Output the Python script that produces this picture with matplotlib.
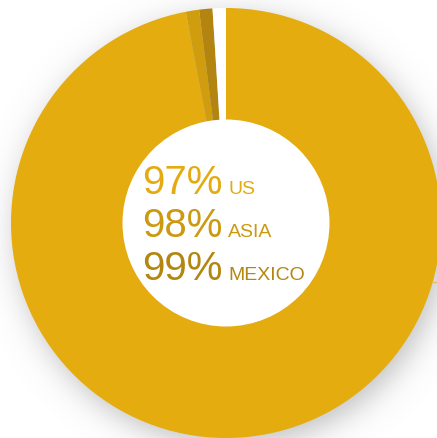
import numpy as np
import matplotlib
matplotlib.use("Agg")
import matplotlib.pyplot as plt
from matplotlib.patches import Circle

# Data
regions = ["US", "ASIA", "MEXICO"]
percents = [97, 98, 99]
slice_colors = ["#E5AC10", "#CF9D0E", "#B3840F"]
text_colors = ["#E3AA12", "#CB9A10", "#B3860F"]

W, H = 437, 438
fig = plt.figure(figsize=(W / 100, H / 100), dpi=100)
ax = fig.add_axes([0, 0, 1, 1])
ax.set_xlim(0, W)
ax.set_ylim(0, H)
ax.axis("off")

cx, cy_img = 226, 223
cy = H - cy_img
R_out, R_in = 215, 103

# soft drop shadow
yy, xx = np.mgrid[0:H, 0:W]
sx, sy = cx + 5, cy_img + 8
d = np.sqrt((xx + 0.5 - sx) ** 2 + (yy + 0.5 - sy) ** 2)
s = 9.0
alpha = 0.40 / (1 + np.exp((d - R_out) / s))
rgba = np.zeros((H, W, 4))
rgba[..., :3] = 0.4
rgba[..., 3] = alpha
ax.imshow(rgba, extent=(0, W, 0, H), origin="upper", zorder=0, interpolation="bilinear")

# slices: increments between cumulative percentages, remainder as gap
sizes = [percents[0]] + [percents[i] - percents[i - 1] for i in range(1, len(percents))]
sizes.append(100 - percents[-1])
colors = slice_colors + ["white"]
ax.pie(sizes, colors=colors, center=(cx, cy), radius=R_out, startangle=90,
       counterclock=False, wedgeprops=dict(width=R_out - R_in, linewidth=0),
       frame=True)
ax.add_patch(Circle((cx, cy), R_in + 0.5, facecolor="white", edgecolor="none", zorder=2))
ax.set_xlim(0, W)
ax.set_ylim(0, H)
ax.set_aspect("equal")
ax.axis("off")

# small leader line fragment at right edge
ax.plot([433, 437], [H - 282, H - 282], color="#E9BE5A", lw=1, zorder=3)

baselines = [194, 237, 280]
for reg, p, c, yb in zip(regions, percents, text_colors, baselines):
    ax.text(223, H - yb, f"{p}%", ha="right", va="baseline", fontsize=29,
            family="Liberation Sans", color=c, zorder=5)
    ax.text(228, H - yb, reg, ha="left", va="baseline", fontsize=14,
            family="Liberation Sans", color=c, zorder=5)

fig.savefig("out.png", dpi=100)
